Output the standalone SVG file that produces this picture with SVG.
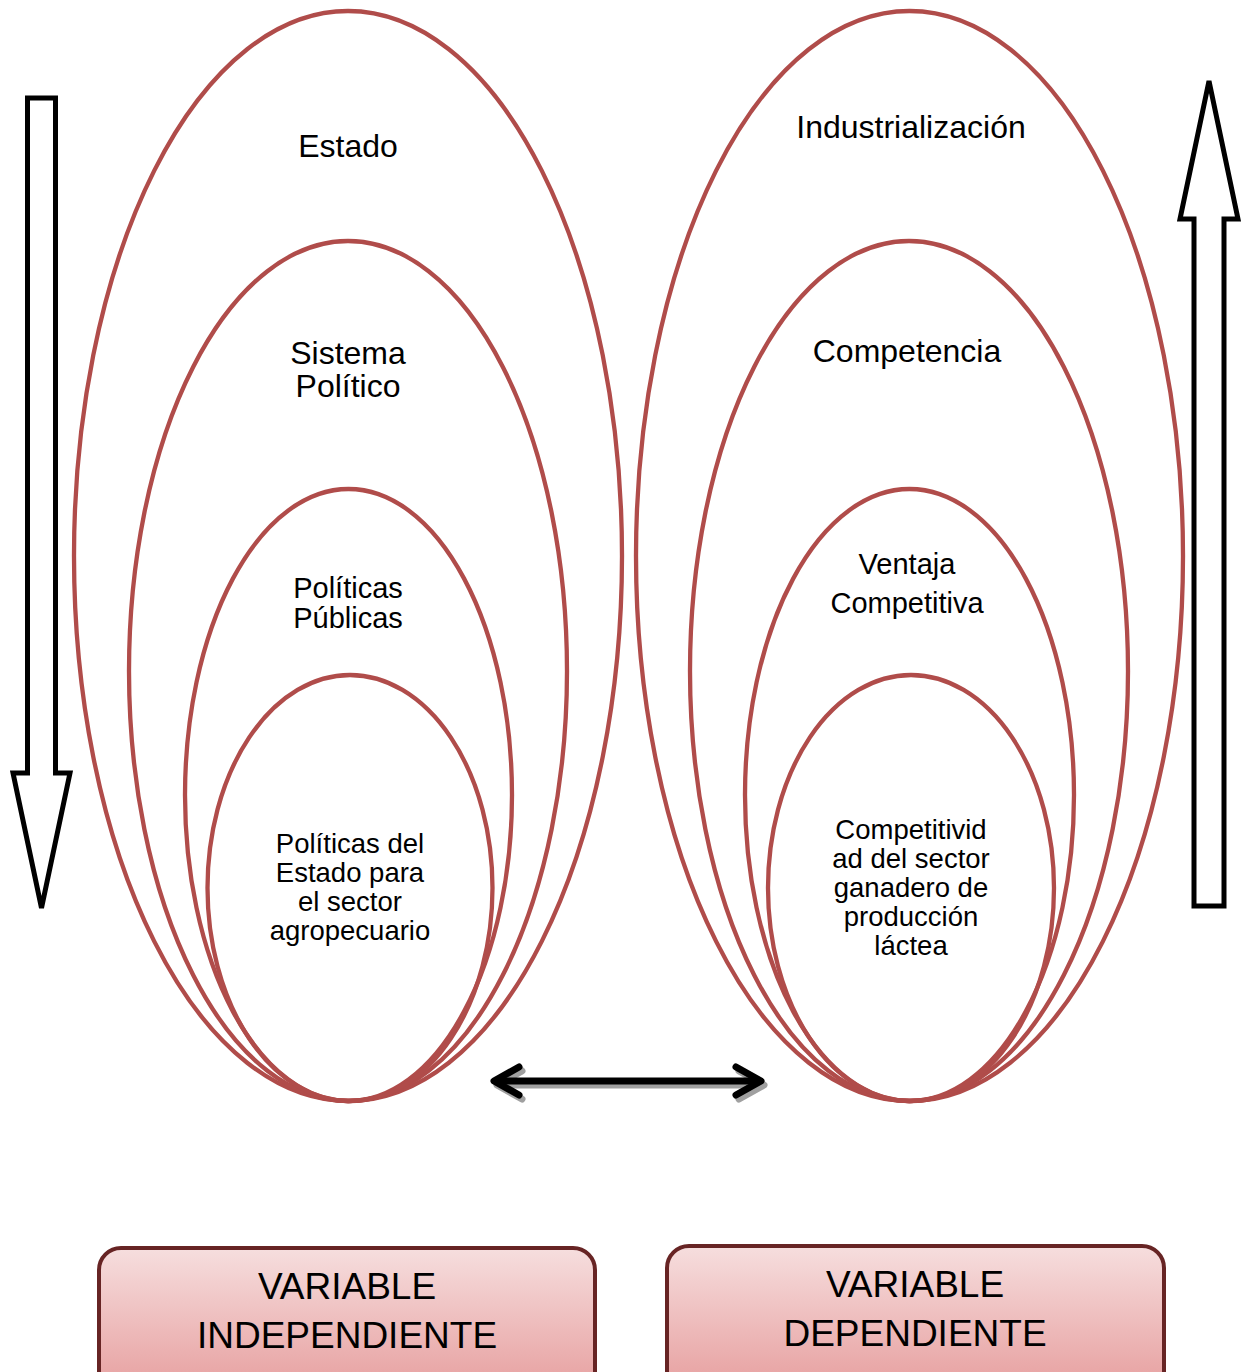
<svg xmlns="http://www.w3.org/2000/svg" width="1243" height="1372" viewBox="0 0 1243 1372">
<style>
.ell{fill:none;stroke:#b04c4a;stroke-width:4.3}
.t{font-family:"Liberation Sans",Arial,sans-serif;fill:#000;text-anchor:middle}
.big{font-size:32px}
.mid{font-size:29px}
.sm{font-size:27.5px}
.var{font-size:37px}
.box{stroke:#672424;stroke-width:4;fill:url(#g)}
.bar{fill:#fff;stroke:#000;stroke-width:5;stroke-linejoin:miter}
</style>
<defs>
<linearGradient id="g" x1="0" y1="0" x2="0" y2="1">
<stop offset="0" stop-color="#f6dede"/>
<stop offset="1" stop-color="#e69c9c"/>
</linearGradient>
</defs>
<rect width="1243" height="1372" fill="#fff"/>
<g id="left-set">
<g id="estado"><ellipse class="ell" cx="348" cy="556" rx="274" ry="545"/><text class="t big" x="348" y="157">Estado</text></g>
<g id="sistema"><ellipse class="ell" cx="348" cy="671" rx="219" ry="430"/><text class="t big" x="348" y="364">Sistema</text><text class="t big" x="348" y="397">Político</text></g>
<g id="politicas"><ellipse class="ell" cx="348.5" cy="795" rx="163.5" ry="306"/><text class="t mid" x="348" y="598">Políticas</text><text class="t mid" x="348" y="628">Públicas</text></g>
<g id="politicas-estado"><ellipse class="ell" cx="350" cy="888" rx="142.5" ry="213"/><text class="t sm" x="350" y="853">Políticas del</text><text class="t sm" x="350" y="882">Estado para</text><text class="t sm" x="350" y="911">el sector</text><text class="t sm" x="350" y="940">agropecuario</text></g>
</g>
<g id="right-set">
<g id="industrializacion"><ellipse class="ell" cx="909.5" cy="556" rx="273.5" ry="545"/><text class="t big" x="911" y="138">Industrialización</text></g>
<g id="competencia"><ellipse class="ell" cx="909" cy="671" rx="219" ry="430"/><text class="t big" x="907" y="362">Competencia</text></g>
<g id="ventaja"><ellipse class="ell" cx="909.5" cy="795" rx="164.5" ry="306"/><text class="t mid" x="907" y="574">Ventaja</text><text class="t mid" x="907" y="613">Competitiva</text></g>
<g id="competitividad"><ellipse class="ell" cx="911" cy="888" rx="143" ry="213"/><text class="t sm" x="911" y="839">Competitivid</text><text class="t sm" x="911" y="868">ad del sector</text><text class="t sm" x="911" y="897">ganadero de</text><text class="t sm" x="911" y="926">producción</text><text class="t sm" x="911" y="955">láctea</text></g>
</g>
<g id="connectors">
<path class="bar" d="M27.5,98 H55.5 V773 H70 L41.5,908 L13,773 H27.5 Z"/>
<path class="bar" d="M1194,906 H1224 V219 H1238 L1209,81 L1180,219 H1194 Z"/>
<g fill="none" stroke-linecap="round" stroke-linejoin="round" stroke-width="7">
<g stroke="#a0a0a0" transform="translate(3,4)">
<path d="M496,1081 H759"/>
<path d="M519,1067 L494,1081 L519,1095"/>
<path d="M736,1067 L761,1081 L736,1095"/>
</g>
<g stroke="#000">
<path d="M496,1081 H759"/>
<path d="M519,1067 L494,1081 L519,1095"/>
<path d="M736,1067 L761,1081 L736,1095"/>
</g>
</g>
</g>
<g id="var-independiente">
<rect class="box" x="99" y="1248" width="496" height="150" rx="22"/>
<text class="t var" x="347" y="1299">VARIABLE</text>
<text class="t var" x="347" y="1348">INDEPENDIENTE</text>
</g>
<g id="var-dependiente">
<rect class="box" x="667" y="1246" width="497" height="150" rx="22"/>
<text class="t var" x="915" y="1297">VARIABLE</text>
<text class="t var" x="915" y="1346">DEPENDIENTE</text>
</g>
</svg>
